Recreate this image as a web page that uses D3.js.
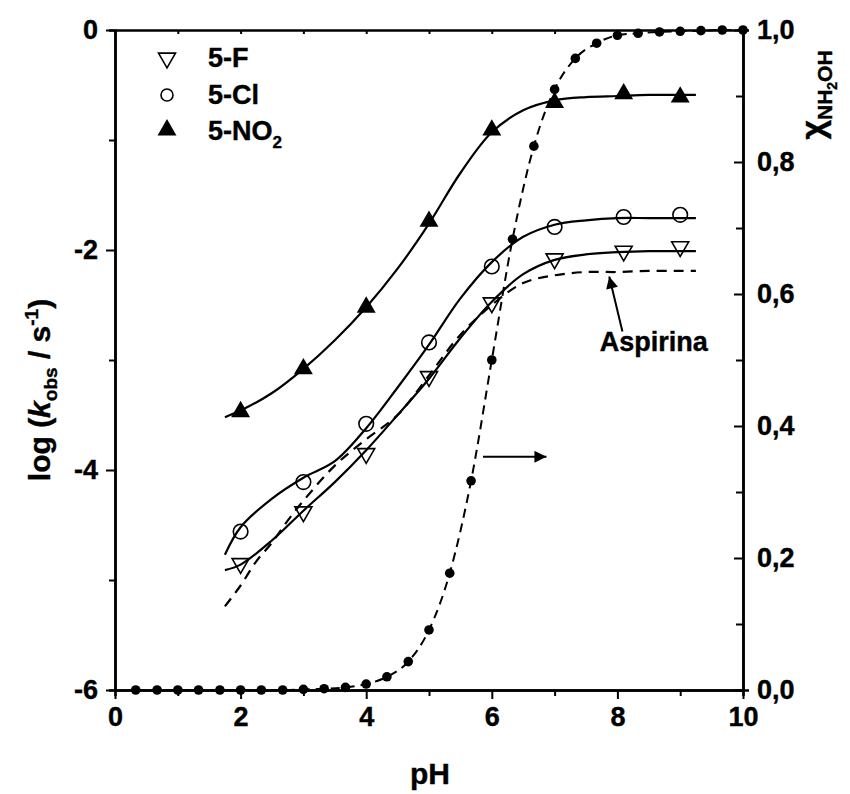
<!DOCTYPE html>
<html>
<head>
<meta charset="utf-8">
<script src="https://cdn.jsdelivr.net/npm/d3@7"></script>
<style>
  body { margin: 0; background: #fff; }
  svg text { font-family: "Liberation Sans", Arial, sans-serif; font-weight: bold; fill: #000; stroke: #000; stroke-width: 0.4px; }
</style>
</head>
<body>
<svg id="chart" width="850" height="794"></svg>
<script>
// measured points
var pH = [2, 3, 4, 5, 6, 7, 8.1, 9];
var logF   = [-4.85, -4.38, -3.85, -3.15, -2.48, -2.08, -2.01, -1.97];
var logCl  = [-4.56, -4.11, -3.58, -2.84, -2.15, -1.79, -1.70, -1.68];
var logNO2 = [-3.47, -3.08, -2.52, -1.74, -0.91, -0.66, -0.58, -0.61];

// fitted curves
var fitPH   = [1.75, 2, 2.5, 3, 3.5, 4, 4.5, 5, 5.5, 6, 6.5, 7, 7.5, 8, 8.5, 9, 9.25];
var fitF    = [-4.91, -4.86, -4.64, -4.37, -4.11, -3.82, -3.5, -3.17, -2.8, -2.47, -2.22, -2.09, -2.04, -2.02, -2.01, -2.01, -2.01];
var fitCl   = [-4.77, -4.52, -4.26, -4.07, -3.92, -3.62, -3.25, -2.86, -2.44, -2.11, -1.88, -1.77, -1.73, -1.71, -1.71, -1.71, -1.71];
var fitNO2  = [-3.52, -3.46, -3.3, -3.08, -2.82, -2.52, -2.17, -1.76, -1.3, -0.93, -0.73, -0.64, -0.61, -0.6, -0.59, -0.59, -0.59];
var aspPH   = [1.75, 2, 2.25, 2.5, 2.75, 3, 3.5, 4, 4.5, 5, 5.5, 6, 6.5, 7, 7.5, 8, 8.5, 9, 9.25];
var aspLog  = [-5.24, -5.05, -4.83, -4.66, -4.46, -4.28, -3.96, -3.72, -3.5, -3.14, -2.77, -2.5, -2.3, -2.23, -2.2, -2.2, -2.19, -2.19, -2.19];

// mole fraction of NH2OH (right axis)
var chiPH = [0.33, 0.67, 1, 1.33, 1.67, 2, 2.33, 2.67, 3, 3.33, 3.67, 4, 4.33, 4.67, 5, 5.33, 5.67, 6, 6.33, 6.67, 7, 7.33, 7.67, 8, 8.33, 8.67, 9, 9.33, 9.67, 10];
var chi   = [0, 0, 0, 0, 0, 0, 0, 0, 0.001, 0.002, 0.004, 0.009, 0.02, 0.043, 0.091, 0.177, 0.317, 0.5, 0.683, 0.824, 0.91, 0.957, 0.98, 0.992, 0.995, 0.997, 0.998, 0.999, 1, 1];

var xTicks = [0, 2, 4, 6, 8, 10];
var xMinor = [1, 3, 5, 7, 9];
var yTicks = [-6, -4, -2, 0];
var yMinor = [-5, -3, -1];
var rTicks = [0, 0.2, 0.4, 0.6, 0.8, 1.0];
var rLabels = ["0,0", "0,2", "0,4", "0,6", "0,8", "1,0"];
var rMinor = [0.1, 0.3, 0.5, 0.7, 0.9];

var pl = 115, pr = 743, pt = 30, pb = 690;
var svg = d3.select("#chart");

var x = d3.scaleLinear().domain([0, 10]).range([pl, pr]);
var y = d3.scaleLinear().domain([-6, 0]).range([pb, pt]);
var y2 = d3.scaleLinear().domain([0, 1]).range([pb, pt]);

function styleAxis(g) {
  g.selectAll("path.domain").attr("stroke", "#000").attr("stroke-width", 2.5);
  g.selectAll(".tick line").attr("stroke", "#000").attr("stroke-width", 2);
  g.selectAll("text").attr("font-size", 27).attr("font-family", null).attr("fill", "#000");
}

// bottom
svg.append("g").attr("transform", "translate(0," + pb + ")")
  .call(d3.axisBottom(x).tickValues(xMinor).tickSize(6).tickFormat(""))
  .call(styleAxis);
svg.append("g").attr("transform", "translate(0," + pb + ")")
  .call(d3.axisBottom(x).tickValues(xTicks).tickSize(9).tickSizeOuter(0).tickPadding(8).tickFormat(d3.format("d")))
  .call(styleAxis);
// top
svg.append("g").attr("transform", "translate(0," + pt + ")")
  .call(d3.axisTop(x).tickValues(xTicks.concat(xMinor)).tickSizeInner(-4).tickSizeOuter(0).tickFormat(""))
  .call(styleAxis);
// left
svg.append("g").attr("transform", "translate(" + pl + ",0)")
  .call(d3.axisLeft(y).tickValues(yMinor).tickSize(6).tickFormat(""))
  .call(styleAxis);
svg.append("g").attr("transform", "translate(" + pl + ",0)")
  .call(d3.axisLeft(y).tickValues(yTicks).tickSize(9).tickSizeOuter(0).tickPadding(8).tickFormat(function(d) { return d === 0 ? "0" : "-" + Math.abs(d); }))
  .call(styleAxis);
// right
svg.append("g").attr("transform", "translate(" + pr + ",0)")
  .call(d3.axisRight(y2).tickValues(rMinor).tickSizeInner(-7).tickFormat(""))
  .call(styleAxis);
svg.append("g").attr("transform", "translate(" + pr + ",0)")
  .call(d3.axisRight(y2).tickValues(rTicks).tickSizeInner(-9).tickSizeOuter(0).tickPadding(14).tickFormat(function(d, i) { return rLabels[i]; }))
  .call(styleAxis);

// curves
var line = d3.line().x(function(d) { return x(d[0]); }).y(function(d) { return y(d[1]); }).curve(d3.curveCatmullRom.alpha(0.5));
var fits = [fitF, fitCl, fitNO2];
fits.forEach(function(f) {
  svg.append("path").datum(fitPH.map(function(p, i) { return [p, f[i]]; }))
    .attr("d", line).attr("fill", "none").attr("stroke", "#000").attr("stroke-width", 2.2);
});
svg.append("path").datum(aspPH.map(function(p, i) { return [p, aspLog[i]]; }))
  .attr("d", line).attr("fill", "none").attr("stroke", "#000").attr("stroke-width", 2.2)
  .attr("stroke-dasharray", "10,7");

var chiLine = d3.line().x(function(d) { return x(d[0]); }).y(function(d) { return y2(d[1]); }).curve(d3.curveMonotoneX);
var chiData = chiPH.map(function(p, i) { return [p, chi[i]]; });
svg.append("path").datum(chiData).attr("d", chiLine).attr("fill", "none")
  .attr("stroke", "#000").attr("stroke-width", 2).attr("stroke-dasharray", "9,6");
svg.selectAll("circle.chi").data(chiData).enter().append("circle").attr("class", "chi")
  .attr("cx", function(d) { return x(d[0]); }).attr("cy", function(d) { return y2(d[1]); })
  .attr("r", 4.8).attr("fill", "#000");

// markers
var triDown = d3.symbol().type(d3.symbolTriangle).size(125);
var triUp = d3.symbol().type(d3.symbolTriangle).size(155);
svg.selectAll("path.f").data(pH).enter().append("path").attr("class", "f")
  .attr("d", triDown).attr("transform", function(d, i) { return "translate(" + x(d) + "," + y(logF[i]) + ") rotate(180)"; })
  .attr("fill", "none").attr("stroke", "#000").attr("stroke-width", 1.6);
svg.selectAll("circle.cl").data(pH).enter().append("circle").attr("class", "cl")
  .attr("cx", function(d) { return x(d); }).attr("cy", function(d, i) { return y(logCl[i]); })
  .attr("r", 7.3).attr("fill", "none").attr("stroke", "#000").attr("stroke-width", 1.6);
svg.selectAll("path.no2").data(pH).enter().append("path").attr("class", "no2")
  .attr("d", triUp).attr("transform", function(d, i) { return "translate(" + x(d) + "," + y(logNO2[i]) + ")"; })
  .attr("fill", "#000");

// legend
var lg = svg.append("g");
lg.append("path").attr("d", triDown).attr("transform", "translate(167,58) rotate(180)")
  .attr("fill", "none").attr("stroke", "#000").attr("stroke-width", 1.6);
lg.append("circle").attr("cx", 167).attr("cy", 95).attr("r", 6).attr("fill", "none").attr("stroke", "#000").attr("stroke-width", 1.6);
lg.append("path").attr("d", triUp).attr("transform", "translate(167,130)").attr("fill", "#000");
lg.append("text").attr("x", 208).attr("y", 67).attr("font-size", 27).text("5-F");
lg.append("text").attr("x", 208).attr("y", 104).attr("font-size", 27).text("5-Cl");
var t3 = lg.append("text").attr("x", 208).attr("y", 140).attr("font-size", 27).text("5-NO");
t3.append("tspan").attr("font-size", 17).attr("dy", 8).text("2");

// annotations
var defs = svg.append("defs");
defs.append("marker").attr("id", "head").attr("viewBox", "0 0 10 10").attr("refX", 10).attr("refY", 5)
  .attr("markerWidth", 18).attr("markerHeight", 12).attr("markerUnits", "userSpaceOnUse").attr("orient", "auto")
  .append("path").attr("d", "M0,0L10,5L0,10Z").attr("fill", "#000");
svg.append("line").attr("x1", x(8.08)).attr("y1", y(-2.74)).attr("x2", x(7.87)).attr("y2", y(-2.24))
  .attr("stroke", "#000").attr("stroke-width", 2).attr("marker-end", "url(#head)");
svg.append("text").attr("x", x(8.58)).attr("y", y(-2.92)).attr("text-anchor", "middle").attr("font-size", 27).text("Aspirina");
svg.append("line").attr("x1", x(5.86)).attr("y1", y(-3.88)).attr("x2", x(6.87)).attr("y2", y(-3.88))
  .attr("stroke", "#000").attr("stroke-width", 2).attr("marker-end", "url(#head)");

// axis titles
svg.append("text").attr("x", 430).attr("y", 784).attr("text-anchor", "middle").attr("font-size", 30).text("pH");

var yt = svg.append("text").attr("transform", "translate(50,390) rotate(-90)").attr("text-anchor", "middle").attr("font-size", 30);
yt.append("tspan").text("log (");
yt.append("tspan").attr("font-style", "italic").text("k");
yt.append("tspan").attr("font-size", 19).attr("dy", 7).text("obs");
yt.append("tspan").attr("dy", -7).text(" / s");
yt.append("tspan").attr("font-size", 19).attr("dy", -12).text("-1");
yt.append("tspan").attr("dy", 12).text(")");

var rt = svg.append("text").attr("transform", "translate(824,95) rotate(-90)").attr("text-anchor", "middle").attr("font-size", 34);
rt.append("tspan").text("\u03c7");
rt.append("tspan").attr("font-size", 21).attr("dy", 8).text("NH");
rt.append("tspan").attr("font-size", 14).attr("dy", 5).text("2");
rt.append("tspan").attr("font-size", 21).attr("dy", -5).text("OH");
</script>
</body>
</html>
